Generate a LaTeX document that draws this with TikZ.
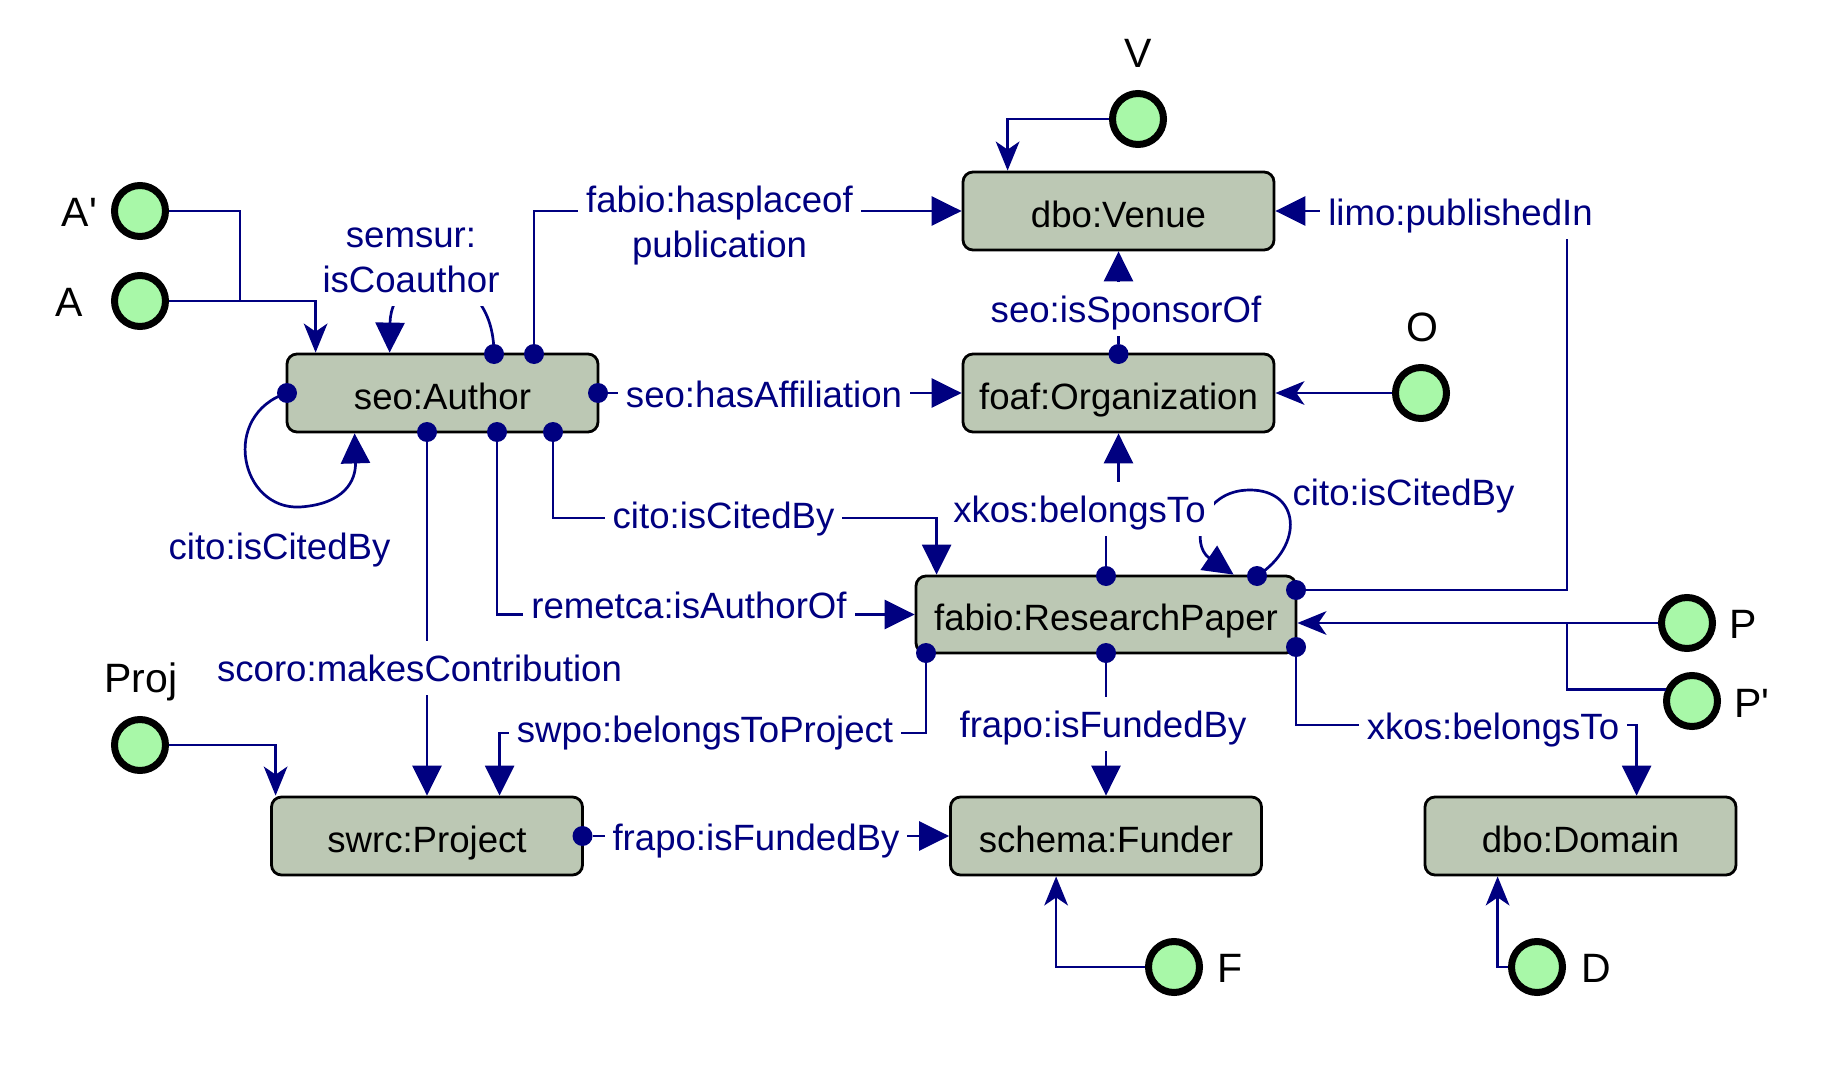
\documentclass[tikz,border=0pt]{standalone}
\usepackage{fontspec}
\setmainfont{Liberation Sans}
\usetikzlibrary{arrows.meta,calc}
\definecolor{navy}{RGB}{0,0,128}
\definecolor{boxfill}{RGB}{188,200,180}
\definecolor{instfill}{RGB}{168,248,168}
\newcommand{\lblfont}{\fontsize{18.3pt}{22.5pt}\selectfont}
\newcommand{\instfont}{\fontsize{20.5pt}{24pt}\selectfont}
\begin{document}
\begin{tikzpicture}[x=0.5pt,y=-0.5pt,
 cls/.style={draw=black, line width=1.4pt, fill=boxfill, rounded corners=5pt, minimum width=155.5pt, minimum height=39pt, inner sep=0pt, font=\lblfont, text=black, text height=16.1pt, text depth=0pt},
 inst/.style={circle, draw=black, line width=3.5pt, fill=instfill, minimum size=25.5pt, inner sep=0pt},
 dot/.style={circle, fill=navy, minimum size=10pt, inner sep=0pt},
 conn/.style={draw=navy, line width=1.35pt},
 prop/.style={conn, -{Triangle[length=15pt,width=14.5pt]}},
 isa/.style={conn, -{Stealth[length=14.5pt,width=11.8pt,inset=4pt]}},
 lbl/.style={text=navy, font=\lblfont, fill=white, inner xsep=4pt, inner ysep=7pt, text height=13.1pt, text depth=0pt},
 lbltwo/.style={text=navy, font=\lblfont, fill=white, inner xsep=4pt, inner ysep=0pt, align=center},
 tag/.style={text=black, font=\instfont, inner sep=0pt, text height=14.7pt, text depth=0pt},
]
\useasboundingbox (0,0) rectangle (1848,1070);

% class boxes
\node[cls] (author) at (442.5,393) {seo:Author};
\node[cls] (venue) at (1118.5,211) {dbo:Venue};
\node[cls] (org) at (1118.5,393) {foaf:Organization};
\node[cls,minimum width=190pt,minimum height=38.5pt] (paper) at (1106,614.5) {fabio:ResearchPaper};
\node[cls] (project) at (427,836) {swrc:Project};
\node[cls] (funder) at (1106,836) {schema:Funder};
\node[cls] (domain) at (1580.5,836) {dbo:Domain};

% instances
\node[inst] (Ap) at (140,211) {};
\node[inst] (A) at (140,301) {};
\node[inst] (V) at (1138,119) {};
\node[inst] (O) at (1421,393) {};
\node[inst] (Proj) at (140,745) {};
\node[inst] (P) at (1687,623) {};
\node[inst] (Pp) at (1692,701) {};
\node[inst] (F) at (1174,967) {};
\node[inst] (D) at (1537,967) {};

\node[tag] (tAp) at (79.5,212) {A\textquotesingle};
\node[tag] (tA) at (69,302) {A};
\node[tag] (tV) at (1138,52.5) {V};
\node[tag] (tO) at (1422,327) {O};
\node[tag] (tProj) at (141,678) {Proj};
\node[tag] (tP) at (1743,624) {P};
\node[tag] (tPp) at (1752,703) {P\textquotesingle};
\node[tag] (tF) at (1230,967.5) {F};
\node[tag] (tD) at (1596,967.5) {D};

% dots
\node[dot] (aT1) at (494,354) {};
\node[dot] (aT2) at (534,354) {};
\node[dot] (aL) at (287,393) {};
\node[dot] (aR) at (598,393) {};
\node[dot] (aB1) at (427,432) {};
\node[dot] (aB2) at (497,432) {};
\node[dot] (aB3) at (553,432) {};
\node[dot] (oT) at (1118.5,354) {};
\node[dot] (pT) at (1106,576) {};
\node[dot] (pT2) at (1257,576) {};
\node[dot] (pR1) at (1296,590) {};
\node[dot] (pR2) at (1296,647) {};
\node[dot] (pB) at (1106,653) {};
\node[dot] (pBL) at (926,653) {};
\node[dot] (prR) at (582.5,836) {};

% bend points
\coordinate (jA) at (240,301);
\coordinate (jC) at (700,518);
\coordinate (jS) at (700,733);
\coordinate (jX) at (1500,725);
\coordinate (jU) at (1118.5,505);
\coordinate (jL) at (1567,211);
\coordinate (jP) at (1567,623);

% connectors
\draw[conn] (Ap.east) -| (jA);
\draw[isa] (A.east) -| ($(author.north west)+(30,0)$);
\draw[prop] (aT1.center) .. controls (494,260) and (391,260) .. ($(author.north west)+(104,0)$);
\draw[prop] (aT2) |- (venue.west);
\draw[prop] (aR) -- (org.west);
\draw[prop] (aL.center) .. controls (220,415) and (240,510) .. (300,507) .. controls (345,504) and (356,480) .. ($(author.south west)+(69,0)$);
\draw[prop] (aB3) |- (jC) -| ($(paper.north west)+(22,0)$);
\draw[prop] (aB2) |- (paper.west);
\draw[prop] (aB1) -- (project.north);
\draw[isa] (Proj.east) -| ($(project.north west)+(5.5,0)$);
\draw[prop] (pBL) |- (jS) -| ($(project.north west)+(229.5,0)$);
\draw[prop] (prR) -- (funder.west);
\draw[prop] (pB) -- (funder.north);
\draw[prop] (pR2) |- (jX) -| ($(domain.north west)+(213,0)$);
\draw[prop] (pT) |- (jU) -- (org.south);
\draw[prop] (oT) -- (venue.south);
\draw[prop] (pT2.center) .. controls (1305,545) and (1300,490) .. (1250,490) .. controls (1200,490) and (1190,545) .. ($(paper.north west)+(319,0)$);
\draw[prop] (pR1) -| (jL) -- (venue.east);
\draw[isa] (P.west) -- (P.west -| paper.east);
\draw[conn] (Pp.156) -| (jP);
\draw[isa] (V.west) -| ($(venue.north west)+(46,0)$);
\draw[isa] (O.west) -- (org.east);
\draw[isa] (F.west) -| ($(funder.south west)+(107,0)$);
\draw[isa] (D.west) -| ($(domain.south west)+(74,0)$);

% labels
\node[lbltwo] (L1) at (719.5,225.5) {\strut fabio:hasplaceof\\\strut publication};
\node[lbltwo,inner xsep=1pt] (L2) at (411,260.5) {\strut semsur:\\\strut isCoauthor};
\node[lbl] (L3) at (764,394) {seo:hasAffiliation};
\node[lbl] (L4) at (1460.5,212) {limo:publishedIn};
\node[lbl] (L5) at (1126,309) {seo:isSponsorOf};
\node[lbl,fill=none] (L6) at (279.5,546) {cito:isCitedBy};
\node[lbl] (L7) at (723.5,515) {cito:isCitedBy};
\node[lbl] (L8) at (689,605) {remetca:isAuthorOf};
\node[lbl] (L9) at (419.5,668) {scoro:makesContribution};
\node[lbl] (L10) at (705,729) {swpo:belongsToProject};
\node[lbl] (L11) at (756,837) {frapo:isFundedBy};
\node[lbl] (L12) at (1103,724) {frapo:isFundedBy};
\node[lbl] (L13) at (1493,726) {xkos:belongsTo};
\node[lbl] (L14) at (1079.5,509) {xkos:belongsTo};
\node[lbl,fill=none] (L15) at (1403.5,492) {cito:isCitedBy};
\end{tikzpicture}
\end{document}
